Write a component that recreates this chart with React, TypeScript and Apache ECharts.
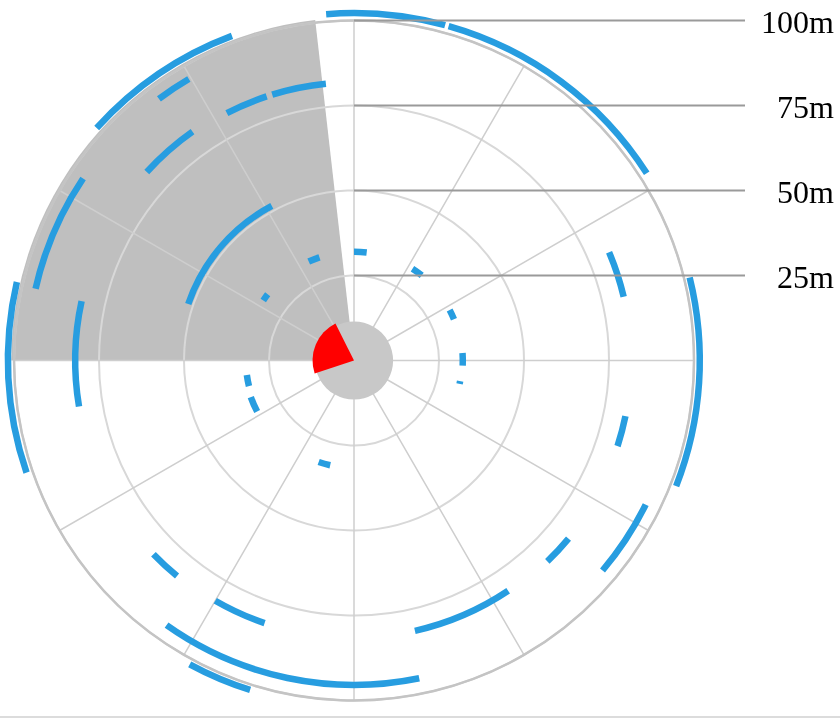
import React, { useEffect, useRef } from "react";
import * as echarts from "echarts";

// Rings / leader labels
const ringTicks = [25, 50, 75, 100];
const ringLabels = ["25m", "50m", "75m", "100m"];

// Blue arcs: radius (m), start bearing (deg), end bearing (deg)
const arcRadius = [102.2, 102.2, 101.7, 81.5, 32, 32, 31.8, 32, 31.8, 81.5, 95.7, 82, 81.5, 95.4, 81.6, 101.6, 82, 101.8, 82, 31.8, 32.2, 31.6, 102, 96, 81.8, 81.8, 82.4, 96, 51.5, 32, 32];
const arcStart = [355.4, 15.8, 76.1, 67, 0, 32.5, 62.2, 86, 101, 101.6, 116.3, 129.7, 146.2, 168.4, 198.8, 197.5, 219.4, 251.1, 260.5, 256.3, 242.2, 192.8, 312.1, 323.3, 332.8, 342.9, 312.3, 282.7, 288.8, 335.4, 303.5];
const arcEnd = [15.2, 57.4, 111.3, 76.7, 6.7, 38.5, 67.6, 92.7, 102.5, 108, 130.2, 136.1, 167.3, 215.3, 210, 208.4, 226, 283.1, 282.3, 262.3, 250.5, 199.2, 339.4, 329.6, 341.7, 354.2, 324.8, 303.9, 332, 341.5, 307.5];

// Shaded sector (radius, start, end)
const shadeSector = [100.8, 270, 353.5];
// Inner disk radius
const diskRadius = [11.5];
// Red heading sector (radius, start, end)
const headingSector = [12.2, 251.6, 333.4];

function angleInfo(api: any, params: any, r: number, a0: number, a1: number) {
  const cx = params.coordSys.cx;
  const cy = params.coordSys.cy;
  const p0 = api.coord([r, a0]);
  const p1 = api.coord([r, a1]);
  const rp = Math.hypot(p0[0] - cx, p0[1] - cy);
  const s = Math.atan2(p0[1] - cy, p0[0] - cx);
  let e = Math.atan2(p1[1] - cy, p1[0] - cx);
  if (e < s) e += Math.PI * 2;
  return { cx, cy, rp, s, e };
}

export default function App() {
  const ref = useRef<HTMLDivElement>(null);
  useEffect(() => {
    const chart = echarts.init(ref.current!, null, { renderer: "svg" });
    const arcData = arcRadius.map((r, i) => [r, arcStart[i], arcEnd[i]]);
    chart.setOption({
      animation: false,
      polar: { center: [354, 360.5], radius: 340 },
      angleAxis: {
        type: "value",
        min: 0,
        max: 360,
        interval: 30,
        startAngle: 90,
        clockwise: true,
        z: 1,
        axisLine: { show: true, lineStyle: { color: "#c4c4c4", width: 2.5 } },
        axisTick: { show: false },
        axisLabel: { show: false },
        splitLine: { show: true, lineStyle: { color: "#cecece", width: 1.5 } },
      },
      radiusAxis: {
        type: "value",
        min: 0,
        max: 100,
        interval: 25,
        z: 1,
        axisLine: { show: false },
        axisTick: { show: false },
        axisLabel: { show: false },
        splitLine: { show: true, lineStyle: { color: "#d8d8d8", width: 2 } },
      },
      graphic: [
        { type: "rect", shape: { x: 0, y: 716, width: 840, height: 2 }, style: { fill: "#dcdcdc" } },
      ],
      series: [
        {
          type: "custom",
          coordinateSystem: "polar",
          z: 0,
          silent: true,
          data: [shadeSector],
          renderItem: (params: any, api: any) => {
            const g = angleInfo(api, params, api.value(0), api.value(1), api.value(2));
            return {
              type: "sector",
              shape: { cx: g.cx, cy: g.cy, r0: 0, r: g.rp, startAngle: g.s, endAngle: g.e, clockwise: true },
              style: { fill: "#bfbfbf" },
            };
          },
        },
        {
          type: "custom",
          coordinateSystem: "polar",
          z: 3,
          silent: true,
          data: arcData,
          renderItem: (params: any, api: any) => {
            const g = angleInfo(api, params, api.value(0), api.value(1), api.value(2));
            return {
              type: "arc",
              shape: { cx: g.cx, cy: g.cy, r: g.rp, startAngle: g.s, endAngle: g.e, clockwise: true },
              style: { stroke: "#279de0", lineWidth: 6.5, fill: "none" },
            };
          },
        },
        {
          type: "custom",
          coordinateSystem: "polar",
          z: 4,
          silent: true,
          data: [[diskRadius[0], 0]],
          renderItem: (params: any, api: any) => {
            const cx = params.coordSys.cx;
            const cy = params.coordSys.cy;
            const p = api.coord([api.value(0), 0]);
            return {
              type: "circle",
              shape: { cx, cy, r: Math.hypot(p[0] - cx, p[1] - cy) },
              style: { fill: "#c8c8c8" },
            };
          },
        },
        {
          type: "custom",
          coordinateSystem: "polar",
          z: 5,
          silent: true,
          data: [headingSector],
          renderItem: (params: any, api: any) => {
            const g = angleInfo(api, params, api.value(0), api.value(1), api.value(2));
            return {
              type: "sector",
              shape: { cx: g.cx, cy: g.cy, r0: 0, r: g.rp, startAngle: g.s, endAngle: g.e, clockwise: true },
              style: { fill: "#ff0000" },
            };
          },
        },
        {
          type: "custom",
          coordinateSystem: "polar",
          z: 6,
          silent: true,
          data: ringTicks.map((v) => [v, 0]),
          renderItem: (params: any, api: any) => {
            const p = api.coord([api.value(0), 0]);
            return {
              type: "group",
              children: [
                {
                  type: "line",
                  shape: { x1: p[0], y1: p[1], x2: 745, y2: p[1] },
                  style: { stroke: "#9a9a9a", lineWidth: 2 },
                },
                {
                  type: "text",
                  x: 834,
                  y: p[1] + 1,
                  style: {
                    text: ringLabels[params.dataIndex],
                    fill: "#000",
                    fontFamily: "Liberation Serif",
                    fontSize: 32,
                    align: "right",
                    verticalAlign: "middle",
                  },
                },
              ],
            };
          },
        },
      ],
    });
    return () => chart.dispose();
  }, []);
  return <div ref={ref} style={{ position: "fixed", left: 0, top: 0, width: 840, height: 720 }} />;
}
